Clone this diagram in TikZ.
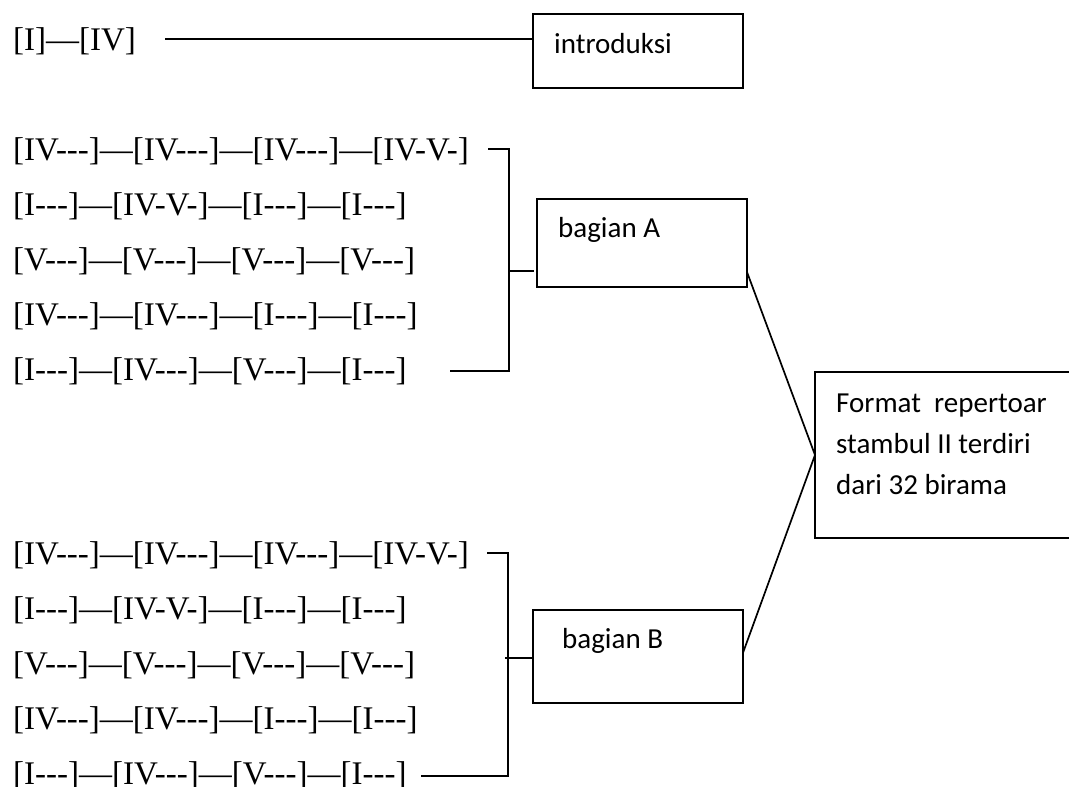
\documentclass[tikz,border=0pt]{standalone}
\usepackage{fontspec}
\usetikzlibrary{calc}
% chord progressions: serif, with plain hyphens kept as they are typed
\newfontfamily\chordfont{Liberation Serif}[Ligatures=TeXOff]
\newfontfamily\boxfont{Carlito}
\begin{document}
\begin{tikzpicture}[x=1pt,y=-1pt,
  chord/.style={inner sep=0pt, anchor=base west, font=\chordfont\fontsize{33}{40}\selectfont},
  frame/.style={draw, line width=1.7pt, anchor=north west, inner sep=0pt, outer sep=0pt},
  boxlabel/.style={inner sep=0pt, anchor=base west, font=\boxfont\fontsize{29}{40}\selectfont},
  wire/.style={line width=1.7pt}]
\useasboundingbox (0,0) rectangle (1069,787);

% ---- introduction ----
\node[chord] (intro) at (13,50) {[I]—[IV]};
\node[frame, minimum width=210pt, minimum height=74pt] (introbox) at (533,14) {};
\node[boxlabel] (introlbl) at (554,53) {introduksi};
\coordinate (introline) at (165,39);
\draw[wire] (introline) -- (introline -| introbox.west);

% ---- part A ----
\node[chord] (a1) at (13,160) {[IV---]—[IV---]—[IV---]—[IV-V-]};
\node[chord] (a2) at (13,215) {[I---]—[IV-V-]—[I---]—[I---]};
\node[chord] (a3) at (13,270) {[V---]—[V---]—[V---]—[V---]};
\node[chord] (a4) at (13,325) {[IV---]—[IV---]—[I---]—[I---]};
\node[chord] (a5) at (13,380) {[I---]—[IV---]—[V---]—[I---]};

\node[frame, minimum width=210pt, minimum height=88pt] (boxA) at (537,199) {};
\node[boxlabel] (lblA) at (558,237) {bagian A};

\coordinate (aTop) at (488,149);
\coordinate (aSpine) at (509,271);
\coordinate (aBot) at (450,371);
\draw[wire] (aTop) -| (aSpine) |- (aBot);
\draw[wire] (aSpine) -- ($(aSpine -| boxA.west)+(-3,0)$);

% ---- part B ----
\node[chord] (b1) at (13,564) {[IV---]—[IV---]—[IV---]—[IV-V-]};
\node[chord] (b2) at (13,619) {[I---]—[IV-V-]—[I---]—[I---]};
\node[chord] (b3) at (13,674) {[V---]—[V---]—[V---]—[V---]};
\node[chord] (b4) at (13,729) {[IV---]—[IV---]—[I---]—[I---]};
\node[chord] (b5) at (13,784.5) {[I---]—[IV---]—[V---]—[I---]};

\node[frame, minimum width=210pt, minimum height=93pt] (boxB) at (533,610) {};
\node[boxlabel] (lblB) at (562,648) {bagian B};

\coordinate (bTop) at (487,553);
\coordinate (bSpine) at (508,658);
\coordinate (bBot) at (421,776);
\coordinate (bStub) at (505,658);
\draw[wire] (bTop) -| (bSpine) |- (bBot);
\draw[wire] (bStub) -- (bStub -| boxB.west);

% ---- overall format ----
\node[frame, minimum width=255pt, minimum height=166pt] (fmt) at (815,372) {};
\node[boxlabel] (fmt1) at (836,412) {Format\ \ repertoar};
\node[boxlabel] (fmt2) at (836,453) {stambul II terdiri};
\node[boxlabel] (fmt3) at (836,494) {dari 32 birama};

\draw[wire] ($(boxA.south east)!0.17!(boxA.north east)$) -- (fmt.west);
\draw[wire] ($(boxB.south east)!0.54!(boxB.north east)$) -- (fmt.west);
\end{tikzpicture}
\end{document}
